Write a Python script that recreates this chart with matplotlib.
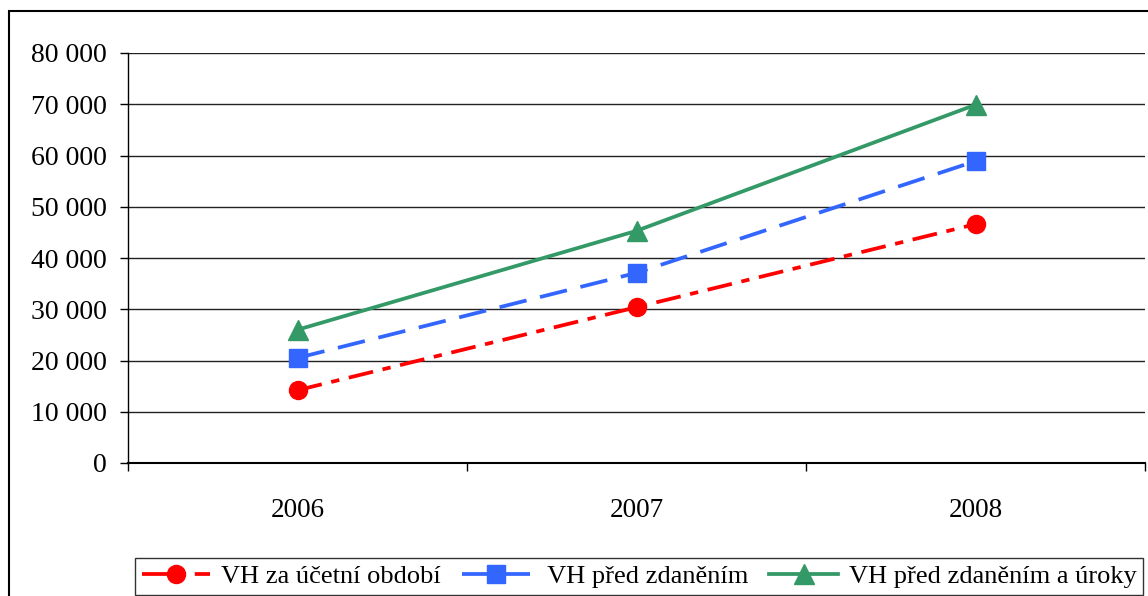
import matplotlib
matplotlib.use('Agg')
import matplotlib.pyplot as plt
from matplotlib.patches import Rectangle
from matplotlib.ticker import FuncFormatter

plt.rcParams['font.family'] = ['Liberation Serif', 'DejaVu Serif']
plt.rcParams['lines.scale_dashes'] = False

# data
years = ['2006', '2007', '2008']
vh_obdobi = [14200, 30400, 46600]
vh_pred_zdanenim = [20500, 37100, 58900]
vh_pred_zdanenim_uroky = [26000, 45300, 69900]
labels = ['VH za účetní období', ' VH před zdaněním', 'VH před zdaněním a úroky']

fig = plt.figure(figsize=(11.48, 5.96), dpi=100)
ax = fig.add_axes([128/1148, 133/596, 1017/1148, 410/596])

x = list(range(len(years)))
ax.plot(x, vh_obdobi, color='#FF0000', lw=2.7, ls=(0, (18, 7, 6, 7)),
        marker='o', ms=13, label=labels[0])
ax.plot(x, vh_pred_zdanenim, color='#3366FF', lw=2.7, ls=(0, (20, 10)),
        marker='s', ms=12.5, label=labels[1])
ax.plot(x, vh_pred_zdanenim_uroky, color='#339966', lw=2.7, ls='-',
        marker='^', ms=15, label=labels[2])

ax.set_xlim(-0.5, 2.5)
ax.set_ylim(0, 80000)
ax.set_yticks(range(0, 80001, 10000))
ax.yaxis.set_major_formatter(FuncFormatter(lambda v, p: f'{int(v):,}'.replace(',', ' ')))
ax.grid(axis='y', color='#222222', lw=1)
ax.set_axisbelow(True)

ax.set_xticks(x)
ax.set_xticklabels(years)
ax.set_xticks([-0.5, 0.5, 1.5, 2.5], minor=True)
ax.tick_params(axis='x', which='major', length=0, pad=25, labelsize=19.5)
ax.tick_params(axis='x', which='minor', length=6, width=1, direction='out')
ax.tick_params(axis='y', length=6, width=1, pad=9, labelsize=20)

for s in ['top', 'right']:
    ax.spines[s].set_visible(False)
ax.spines['left'].set_linewidth(1)
ax.spines['bottom'].set_linewidth(1.5)

# outer chart border
fig.patches.append(Rectangle((9/1148, -0.1), 1.2, (585/596) + 0.1,
                             transform=fig.transFigure, fill=False,
                             lw=1.5, edgecolor='black'))

leg = fig.legend(loc='lower left', bbox_to_anchor=(135/1148, 1/596, 1008/1148, 44/596),
                 mode='expand', ncol=3, fontsize=19, frameon=True, fancybox=False,
                 edgecolor='black', borderaxespad=0, handlelength=2.6,
                 handletextpad=0.4, columnspacing=0.3, borderpad=0.25)
leg.get_frame().set_linewidth(1)

fig.savefig('out.png', dpi=100)
